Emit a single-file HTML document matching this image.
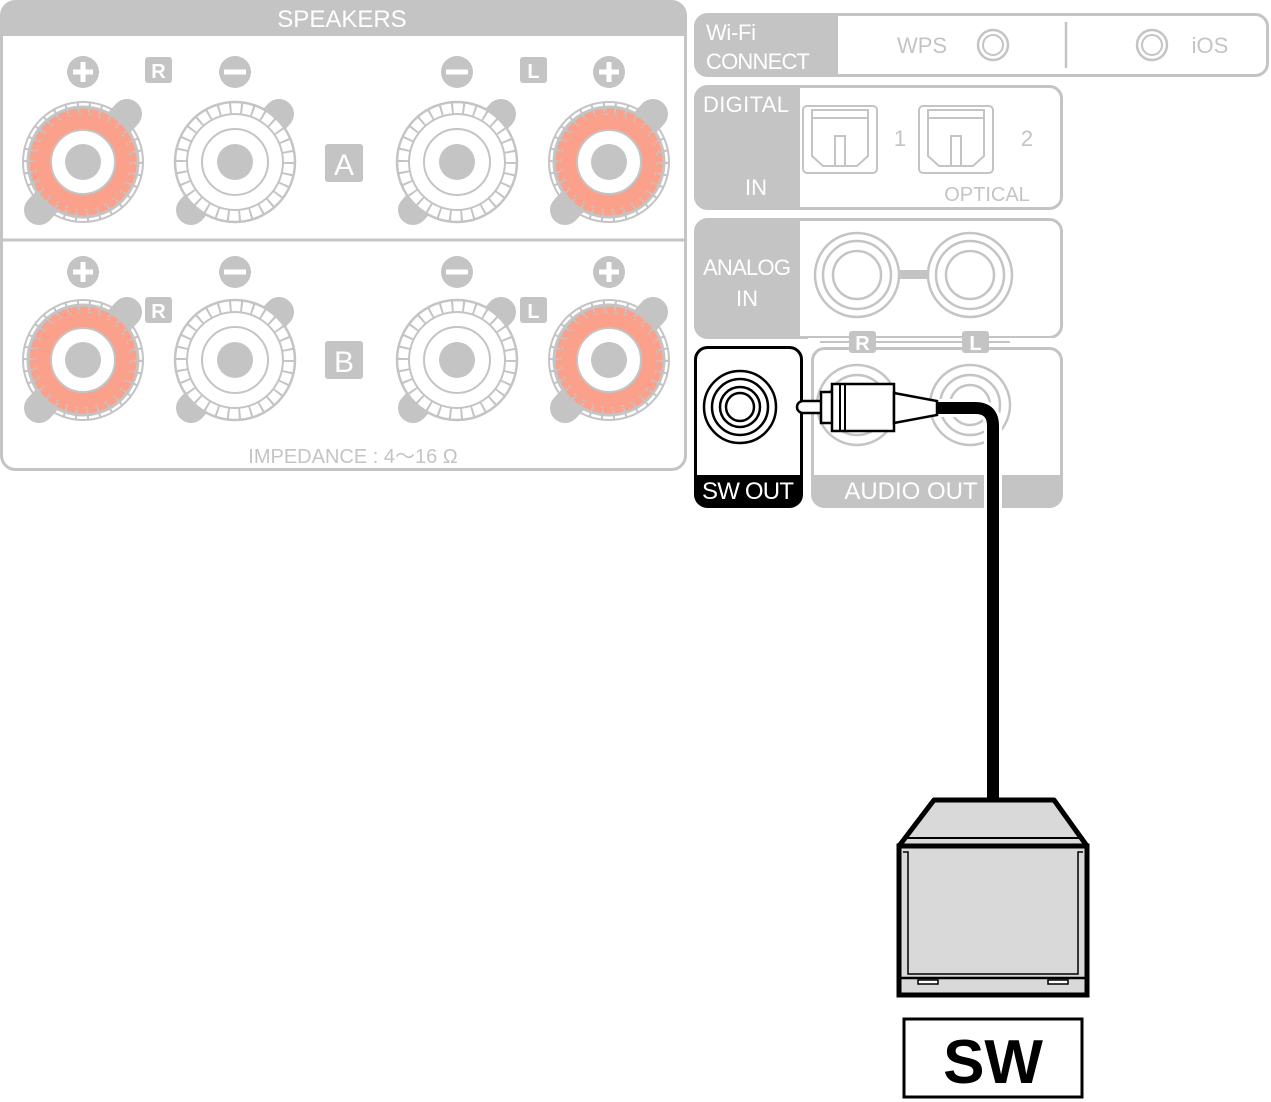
<!DOCTYPE html>
<html><head><meta charset="utf-8"><style>
html,body{margin:0;padding:0;background:#fff;}
svg{display:block;}
text{font-family:"Liberation Sans",sans-serif;}
</style></head><body>
<svg width="1271" height="1102" viewBox="0 0 1271 1102" xmlns="http://www.w3.org/2000/svg">
<defs>
  <g id="redT">
    <circle r="55" fill="#fba08a" stroke="#c4c4c4" stroke-width="3"/>
    <circle r="60" fill="none" stroke="#c4c4c4" stroke-width="2"/>
    <circle r="48" fill="none" stroke="#c4c4c4" stroke-width="1.5" stroke-dasharray="3 7.05"/>
    <circle r="55" fill="none" stroke="#c4c4c4" stroke-width="10" stroke-dasharray="2 9.5"/>
    <circle r="32" fill="#fff" stroke="#c4c4c4" stroke-width="2"/>
    <circle r="18" fill="#c4c4c4"/>
  </g>
  <g id="whiteT">
    <circle r="60" fill="#fff" stroke="#c4c4c4" stroke-width="2.5"/>
    <circle r="48" fill="none" stroke="#c4c4c4" stroke-width="2"/>
    <circle r="54" fill="none" stroke="#c4c4c4" stroke-width="12" stroke-dasharray="2 9.3"/>
    <circle r="33" fill="none" stroke="#c4c4c4" stroke-width="2"/>
    <circle r="18" fill="#c4c4c4"/>
  </g>
  <g id="tabs">
    <line x1="-44" y1="48" x2="44" y2="-48" stroke="#c4c4c4" stroke-width="30" stroke-linecap="round"/>
  </g>
  <g id="plus"><circle r="16" fill="#c4c4c4"/><rect x="-10" y="-2.5" width="20" height="5" fill="#fff"/><rect x="-2.5" y="-10" width="5" height="20" fill="#fff"/></g>
  <g id="minus"><circle r="16" fill="#c4c4c4"/><rect x="-11" y="-2.5" width="22" height="5" fill="#fff"/></g>
  <g id="rca">
    <circle r="42" fill="#fff" stroke="#c4c4c4" stroke-width="2.5"/>
    <circle r="34" fill="none" stroke="#c4c4c4" stroke-width="2.5"/>
    <circle r="24" fill="none" stroke="#c4c4c4" stroke-width="2.5"/>
  </g>
  <g id="opt">
    <rect x="0" y="0" width="74" height="67" rx="4" fill="#fff" stroke="#c4c4c4" stroke-width="2"/>
    <line x1="8" y1="4" x2="66" y2="4" stroke="#c4c4c4" stroke-width="2"/>
    <line x1="8" y1="12" x2="66" y2="12" stroke="#c4c4c4" stroke-width="2"/>
    <path d="M9 4 V50 L20 60 H54 L65 50 V4" fill="none" stroke="#c4c4c4" stroke-width="2"/>
    <rect x="32" y="30" width="10" height="30" fill="none" stroke="#c4c4c4" stroke-width="2"/>
  </g>
</defs>

<!-- SPEAKERS panel -->
<rect x="1.5" y="1.5" width="684" height="468" rx="14" fill="#fff" stroke="#c4c4c4" stroke-width="3"/>
<path d="M1.5 36 V15 Q1.5 1.5 15 1.5 H672 Q685.5 1.5 685.5 15 V36 Z" fill="#c4c4c4"/>
<text x="342" y="27" font-size="24" fill="#fff" text-anchor="middle">SPEAKERS</text>
<line x1="1" y1="240" x2="686" y2="240" stroke="#c4c4c4" stroke-width="3"/>

<!-- row A -->
<g transform="translate(83,162)"><use href="#tabs"/><use href="#redT"/></g>
<g transform="translate(235,162)"><use href="#tabs"/><use href="#whiteT"/></g>
<g transform="translate(457,162)"><use href="#tabs"/><use href="#whiteT"/></g>
<g transform="translate(609,162)"><use href="#tabs"/><use href="#redT"/></g>
<use href="#plus" x="83" y="72"/><use href="#minus" x="235" y="72"/>
<use href="#minus" x="457" y="72"/><use href="#plus" x="609" y="72"/>
<rect x="145" y="57" width="27" height="26" rx="3" fill="#c4c4c4"/><text x="158.5" y="78" font-size="20" font-weight="bold" fill="#fff" text-anchor="middle">R</text>
<rect x="520" y="57" width="27" height="26" rx="3" fill="#c4c4c4"/><text x="533.5" y="78" font-size="20" font-weight="bold" fill="#fff" text-anchor="middle">L</text>
<rect x="325" y="144" width="38" height="38" rx="3" fill="#c4c4c4"/><text x="344" y="175" font-size="30" fill="#fff" text-anchor="middle">A</text>

<!-- row B -->
<g transform="translate(83,360)"><use href="#tabs"/><use href="#redT"/></g>
<g transform="translate(235,360)"><use href="#tabs"/><use href="#whiteT"/></g>
<g transform="translate(457,360)"><use href="#tabs"/><use href="#whiteT"/></g>
<g transform="translate(609,360)"><use href="#tabs"/><use href="#redT"/></g>
<use href="#plus" x="83" y="272"/><use href="#minus" x="235" y="272"/>
<use href="#minus" x="457" y="272"/><use href="#plus" x="609" y="272"/>
<rect x="145" y="297" width="27" height="26" rx="3" fill="#c4c4c4"/><text x="158.5" y="318" font-size="20" font-weight="bold" fill="#fff" text-anchor="middle">R</text>
<rect x="520" y="297" width="27" height="26" rx="3" fill="#c4c4c4"/><text x="533.5" y="318" font-size="20" font-weight="bold" fill="#fff" text-anchor="middle">L</text>
<rect x="325" y="341" width="38" height="38" rx="3" fill="#c4c4c4"/><text x="344" y="372" font-size="30" fill="#fff" text-anchor="middle">B</text>
<text x="353" y="463" font-size="20" fill="#c4c4c4" text-anchor="middle">IMPEDANCE : 4～16 Ω</text>

<!-- Wi-Fi -->
<rect x="695.5" y="14.5" width="572" height="61" rx="12" fill="#fff" stroke="#c4c4c4" stroke-width="3"/>
<path d="M838 14.5 H707 Q695.5 14.5 695.5 26 V64 Q695.5 75.5 707 75.5 H838 Z" fill="#c4c4c4"/>
<text x="706" y="40" font-size="22" fill="#fff" textLength="50">Wi-Fi</text>
<text x="706" y="69" font-size="22" fill="#fff" textLength="104">CONNECT</text>
<text x="922" y="53" font-size="22" fill="#c4c4c4" text-anchor="middle">WPS</text>
<circle cx="993" cy="45" r="15" fill="none" stroke="#c4c4c4" stroke-width="2.5"/><circle cx="993" cy="45" r="10" fill="none" stroke="#c4c4c4" stroke-width="2"/>
<line x1="1066" y1="22" x2="1066" y2="68" stroke="#c4c4c4" stroke-width="2.5"/>
<circle cx="1152" cy="45" r="15" fill="none" stroke="#c4c4c4" stroke-width="2.5"/><circle cx="1152" cy="45" r="10" fill="none" stroke="#c4c4c4" stroke-width="2"/>
<text x="1210" y="53" font-size="22" fill="#c4c4c4" text-anchor="middle">iOS</text>

<!-- DIGITAL IN -->
<rect x="695.5" y="86.5" width="366" height="122" rx="12" fill="#fff" stroke="#c4c4c4" stroke-width="3"/>
<path d="M800 86.5 H707 Q695.5 86.5 695.5 98 V197 Q695.5 208.5 707 208.5 H800 Z" fill="#c4c4c4"/>
<text x="746" y="112" font-size="22" fill="#fff" text-anchor="middle" textLength="86">DIGITAL</text>
<text x="756" y="195" font-size="22" fill="#fff" text-anchor="middle">IN</text>
<use href="#opt" x="803" y="106"/><use href="#opt" x="919" y="106"/>
<text x="900" y="146" font-size="22" fill="#c4c4c4" text-anchor="middle">1</text>
<text x="1027" y="146" font-size="22" fill="#c4c4c4" text-anchor="middle">2</text>
<text x="987" y="201" font-size="20" fill="#c4c4c4" text-anchor="middle">OPTICAL</text>

<!-- ANALOG IN -->
<rect x="695.5" y="219.5" width="366" height="118" rx="12" fill="#fff" stroke="#c4c4c4" stroke-width="3"/>
<path d="M800 219.5 H707 Q695.5 219.5 695.5 231 V326 Q695.5 337.5 707 337.5 H800 Z" fill="#c4c4c4"/>
<text x="747" y="275" font-size="22" fill="#fff" text-anchor="middle" textLength="88">ANALOG</text>
<text x="747" y="306" font-size="22" fill="#fff" text-anchor="middle">IN</text>
<rect x="895" y="270" width="40" height="9" fill="#c4c4c4"/>
<use href="#rca" x="857" y="275"/><use href="#rca" x="970" y="275"/>

<!-- AUDIO OUT -->
<rect x="812.5" y="348.5" width="249" height="158" rx="12" fill="#fff" stroke="#c4c4c4" stroke-width="3"/>
<path d="M812.5 475 H1061.5 V495 Q1061.5 506.5 1050 506.5 H824 Q812.5 506.5 812.5 495 Z" fill="#c4c4c4"/>
<text x="911" y="499" font-size="24" fill="#fff" text-anchor="middle">AUDIO OUT</text>
<g fill="none" stroke="#c4c4c4" stroke-width="2.5">
<circle cx="857" cy="405" r="40"/><circle cx="857" cy="405" r="30"/>
<circle cx="970" cy="405" r="40"/><circle cx="970" cy="405" r="30"/><circle cx="970" cy="405" r="20"/>
</g>

<!-- SW OUT -->
<rect x="695.5" y="347.5" width="106" height="159" rx="12" fill="#fff" stroke="#000" stroke-width="3"/>
<path d="M695.5 475 H801.5 V495 Q801.5 506.5 790 506.5 H707 Q695.5 506.5 695.5 495 Z" fill="#000"/>
<text x="748" y="499" font-size="24" fill="#fff" text-anchor="middle" textLength="92">SW OUT</text>
<g fill="none" stroke="#000" stroke-width="2.5">
<circle cx="740" cy="407" r="36"/><circle cx="740" cy="407" r="28"/><circle cx="740" cy="407" r="20"/><circle cx="740" cy="407" r="14"/>
</g>

<!-- R / L labels between analog in and audio out -->
<line x1="808" y1="342" x2="1055" y2="342" stroke="#fff" stroke-width="8"/>
<line x1="820" y1="342" x2="1010" y2="342" stroke="#c4c4c4" stroke-width="2"/>
<rect x="849" y="331" width="27" height="22" rx="3" fill="#c4c4c4"/><text x="862.5" y="350" font-size="20" font-weight="bold" fill="#fff" text-anchor="middle">R</text>
<rect x="962" y="331" width="27" height="22" rx="3" fill="#c4c4c4"/><text x="975.5" y="350" font-size="20" font-weight="bold" fill="#fff" text-anchor="middle">L</text>

<!-- cable -->
<path d="M936 408 H975 Q993 408 993 426 V802" fill="none" stroke="#fff" stroke-width="18"/>
<path d="M936 408 H975 Q993 408 993 426 V802" fill="none" stroke="#000" stroke-width="12"/>
<!-- plug -->
<rect x="797" y="401" width="30" height="12" rx="6" fill="#fff" stroke="#000" stroke-width="2.5"/>
<rect x="821" y="392" width="12" height="31" fill="#fff" stroke="#000" stroke-width="2.5"/>
<rect x="832" y="384" width="62" height="47" fill="#fff" stroke="#000" stroke-width="2.5"/>
<line x1="840" y1="384" x2="840" y2="431" stroke="#000" stroke-width="2"/>
<line x1="845" y1="384" x2="845" y2="431" stroke="#000" stroke-width="2"/>
<path d="M894 393 L937 401 V415 L894 423 Z" fill="#fff" stroke="#000" stroke-width="2.5"/>

<!-- subwoofer -->
<path d="M934 800 H1054 L1087 846 H899 Z" fill="#d9d9d9" stroke="#000" stroke-width="5" stroke-linejoin="round"/>
<line x1="903" y1="838" x2="1084" y2="838" stroke="#000" stroke-width="2"/>
<rect x="899" y="846" width="188" height="149" fill="#d9d9d9" stroke="#000" stroke-width="5"/>
<path d="M903 852 L908 852 V974 H1078 V852 H1083" fill="none" stroke="#000" stroke-width="1.5"/>
<line x1="901" y1="978" x2="1085" y2="978" stroke="#000" stroke-width="2.5"/>
<rect x="918" y="980" width="20" height="4" fill="#fff" stroke="#000" stroke-width="1.5"/>
<rect x="1048" y="980" width="20" height="4" fill="#fff" stroke="#000" stroke-width="1.5"/>

<!-- SW label -->
<rect x="904" y="1019" width="178" height="78" fill="#fff" stroke="#000" stroke-width="3"/>
<text x="993" y="1083" font-size="62" font-weight="bold" fill="#000" text-anchor="middle">SW</text>
</svg>
</body></html>
